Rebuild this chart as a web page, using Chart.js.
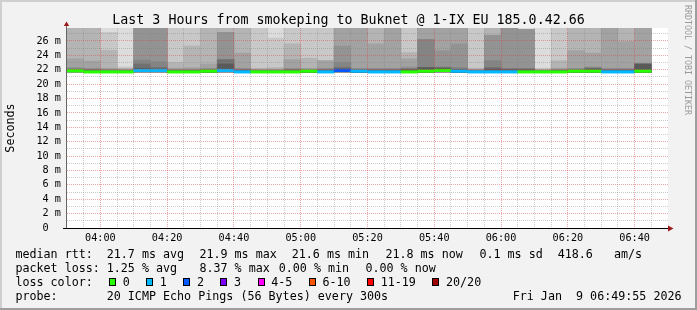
<!DOCTYPE html>
<html>
<head>
<meta charset="utf-8">
<script src="https://cdn.jsdelivr.net/npm/chart.js@4.4.1/dist/chart.umd.min.js"></script>
<style>
  html, body { margin: 0; padding: 0; background: #f2f2f2; }
  canvas { display: block; }
</style>
</head>
<body>
<canvas id="smoke" width="697" height="310"></canvas>
<script>
// 5 minute slots (slot start)
const slotTimes = [
    "03:50", "03:55", "04:00", "04:05", "04:10", "04:15", "04:20", "04:25", "04:30", "04:35",
    "04:40", "04:45", "04:50", "04:55", "05:00", "05:05", "05:10", "05:15", "05:20", "05:25",
    "05:30", "05:35", "05:40", "05:45", "05:50", "05:55", "06:00", "06:05", "06:10", "06:15",
    "06:20", "06:25", "06:30", "06:35", "06:40"
];
const xTickLabels = ["04:00", "04:20", "04:40", "05:00", "05:20", "05:40", "06:00", "06:20", "06:40"];
const axisStart = "03:50";
const axisEnd = "06:50";
const yMax = 27.8;

// median rtt (ms) and lost pings out of 20
const medianRtt = [
    21.85, 21.7, 21.7, 21.7, 21.9, 21.9, 21.7, 21.7, 21.8, 21.9,
    21.7, 21.7, 21.7, 21.7, 21.8, 21.7, 21.9, 21.8, 21.7, 21.7,
    21.7, 21.8, 21.9, 21.8, 21.7, 21.7, 21.7, 21.7, 21.7, 21.7,
    21.8, 21.8, 21.7, 21.7, 21.8
];
const lossCount = [
    0, 0, 0, 0, 1, 1, 0, 0, 0, 1,
    1, 0, 0, 0, 0, 1, 2, 1, 1, 1,
    0, 0, 0, 1, 1, 1, 1, 0, 0, 0,
    0, 0, 1, 1, 0
];
const pingMin = [
    21.7, 21.6, 21.6, 21.6, 21.7, 21.7, 21.6, 21.6, 21.6, 21.7,
    21.6, 21.6, 21.6, 21.6, 21.6, 21.6, 21.7, 21.6, 21.6, 21.6,
    21.6, 21.6, 21.7, 21.6, 21.6, 21.6, 21.6, 21.6, 21.6, 21.6,
    21.6, 21.6, 21.6, 21.6, 21.6
];

// smoke: upper ping of each pair, outer pair first (ms, top of graph is clipped)
const smoke1 = [
    31, 31, 31, 31, 31, 31, 31, 31, 31, 31, 31, 31, 31, 31, 31, 31, 31, 31,
    31, 31, 31, 31, 31, 31, 31, 31, 31, 31, 31, 31, 31, 31, 31, 31, 31
];
const smoke2 = [
    31, 31, 27.2, 22.4, 31, 31, 31, 31, 31, 31, 31, 31, 26.4, 31, 31, 31, 31, 31,
    31, 31, 31, 31, 31, 31, 31, 31, 31, 27.6, 22.2, 31, 31, 31, 31, 31, 31
];
const smoke3 = [
    31, 31, 24.7, 22.2, 31, 31, 23.0, 25.3, 31, 31, 31, 22.2, 22.3, 25.6, 23.6, 23.25, 31, 31,
    31, 31, 24.4, 31, 31, 31, 22.2, 31, 31, 27.6, 22.1, 23.25, 31, 31, 31, 31, 31
];
const smoke4 = [
    23.5, 23.2, 22.2, 22.1, 31, 31, 22.2, 22.3, 22.8, 27.2, 24.3, 22.1, 22.1, 23.4, 22.2, 23.25, 31, 31,
    25.6, 31, 23.5, 31, 31, 31, 22.1, 26.8, 31, 27.6, 22.0, 22.2, 24.65, 24.3, 31, 25.9, 31
];
const smoke5 = [
    22.3, 22.2, 22.1, 22.0, 31, 31, 22.1, 22.1, 22.2, 27.2, 22.2, 22.0, 22.0, 22.2, 22.1, 22.2, 25.3, 22.2,
    22.2, 22.2, 22.4, 26.2, 24.65, 25.6, 22.0, 26.8, 31, 27.6, 21.9, 22.1, 22.2, 22.4, 22.2, 22.2, 22.8
];
const smoke6 = [
    22.2, 22.1, 22.0, 21.9, 23.35, 23.1, 22.0, 22.0, 22.1, 23.4, 22.1, 21.9, 21.9, 22.1, 22.0, 22.1, 23.0, 22.1,
    22.1, 22.1, 22.2, 26.2, 22.4, 22.3, 21.9, 23.25, 22.2, 22.2, 21.9, 22.0, 22.1, 22.3, 22.1, 22.1, 22.8
];
const smoke7 = [
    22.0, 22.0, 21.9, 21.9, 22.8, 22.3, 21.9, 21.9, 22.0, 23.4, 22.0, 21.9, 21.9, 22.0, 21.9, 22.0, 22.3, 22.0,
    22.0, 22.0, 22.1, 22.3, 22.3, 22.1, 21.9, 22.3, 22.1, 22.1, 21.8, 21.9, 22.0, 22.2, 22.0, 22.0, 22.8
];
const smoke8 = [
    21.9, 21.9, 21.8, 21.8, 22.2, 22.1, 21.9, 21.9, 21.9, 22.8, 21.9, 21.8, 21.8, 21.9, 21.9, 21.9, 22.1, 21.9,
    21.9, 21.9, 22.0, 22.3, 22.2, 22.0, 21.8, 22.1, 22.0, 22.0, 21.8, 21.9, 21.9, 22.1, 21.9, 21.9, 22.8
];
const smokeGreys = ["#dcdcdc", "#c8c8c8", "#b4b4b4", "#a2a2a2", "#939393", "#848484", "#707070", "#5a5a5a"];

const lossLabels = ["0", "1", "2", "3", "4-5", "6-10", "11-19", "20/20"];
const lossUpTo = [0, 1, 2, 3, 5, 10, 19, 20];
const lossColors = ["#26ff00", "#00b8ff", "#0059ff", "#7e00ff", "#ff00ff", "#ff5500", "#ff0000", "#a10000"];

const rttStats = ["21.7 ms avg", "21.9 ms max", "21.6 ms min", "21.8 ms now", "0.1 ms sd", "418.6   am/s"];
const lossStats = ["1.25 % avg", "8.37 % max", "0.00 % min", "0.00 % now"];
const probeText = "20 ICMP Echo Pings (56 Bytes) every 300s";
const stampText = "Fri Jan  9 06:49:55 2026";
const titleText = "Last 3 Hours from smokeping to Buknet @ 1-IX EU 185.0.42.66";

const MONO = "'DejaVu Sans Mono', monospace";

function toMin(t){
    const parts = t.split(":");
    return parseInt(parts[0]) * 60 + parseInt(parts[1]);
}
function fmtMin(v){
    const m = toMin(axisStart) + v;
    const hh = String(Math.floor(m / 60)).padStart(2, "0");
    const mm = String(m % 60).padStart(2, "0");
    return hh + ":" + mm;
}
function lossColor(n){
    for(let i = 0; i < lossUpTo.length; i++){
        if(n <= lossUpTo[i]) return lossColors[i];
    }
    return lossColors[lossColors.length - 1];
}

const span = toMin(axisEnd) - toMin(axisStart);
const slotX = slotTimes.map(t => toMin(t) - toMin(axisStart) + 2.5);

const barCommon = {
    grouped: false,
    barPercentage: 1,
    categoryPercentage: 1,
    borderWidth: 0
};

let datasets = [];
datasets.push(Object.assign({
    label: "median",
    data: slotX.map((x, i) => ({x: x, y: [medianRtt[i] - 0.17, medianRtt[i] + 0.17]})),
    backgroundColor: lossCount.map(lossColor),
    order: 0
}, barCommon));

const smokeBands = [smoke1, smoke2, smoke3, smoke4, smoke5, smoke6, smoke7, smoke8];
smokeBands.forEach(function(band, k){
    datasets.push(Object.assign({
        label: "smoke" + (k + 1),
        data: slotX.map((x, i) => ({x: x, y: [pingMin[i], band[i]]})),
        backgroundColor: smokeGreys[k],
        order: smokeBands.length - k
    }, barCommon));
});

const MGRID = "rgba(222, 60, 60, 0.45)";
const GRID = "rgba(128, 128, 128, 0.4)";

// frame, title, axes with arrows and the rrd style legend
const rrdFrame = {
    id: "rrdFrame",
    beforeDraw(chart){
        const c = chart.ctx;
        const a = chart.chartArea;
        c.save();
        c.fillStyle = "#f2f2f2";
        c.fillRect(0, 0, chart.width, chart.height);
        c.fillStyle = "#cfcfcf";
        c.fillRect(0, 0, chart.width, 2);
        c.fillRect(0, 0, 2, chart.height);
        c.fillStyle = "#9e9e9e";
        c.fillRect(chart.width - 2, 0, 2, chart.height);
        c.fillRect(0, chart.height - 2, chart.width, 2);
        c.fillStyle = "#ffffff";
        c.fillRect(a.left, a.top, a.right - a.left, a.bottom - a.top);
        c.restore();
    },
    afterDraw(chart){
        const c = chart.ctx;
        const a = chart.chartArea;
        c.save();

        // axes
        c.strokeStyle = "#666";
        c.lineWidth = 1;
        c.beginPath();
        c.moveTo(a.left - 0.5, a.bottom);
        c.lineTo(a.left - 0.5, a.top - 5);
        c.stroke();
        c.strokeStyle = "#000";
        c.beginPath();
        c.moveTo(a.left - 4, a.bottom + 0.5);
        c.lineTo(a.right, a.bottom + 0.5);
        c.stroke();

        c.fillStyle = "#9b1a1a";
        c.beginPath();
        c.moveTo(a.right, a.bottom - 2.5);
        c.lineTo(a.right + 5.5, a.bottom + 0.5);
        c.lineTo(a.right, a.bottom + 3.5);
        c.closePath();
        c.fill();
        c.beginPath();
        c.moveTo(a.left - 3.2, a.top - 2);
        c.lineTo(a.left - 0.5, a.top - 6.5);
        c.lineTo(a.left + 2.2, a.top - 2);
        c.closePath();
        c.fill();

        // title
        c.fillStyle = "#000";
        c.font = "13.3px " + MONO;
        c.textAlign = "center";
        c.textBaseline = "alphabetic";
        c.fillText(titleText, chart.width / 2, 24);

        // y axis title
        c.save();
        c.font = "11.7px " + MONO;
        c.translate(14, (a.top + a.bottom) / 2);
        c.rotate(-Math.PI / 2);
        c.fillText("Seconds", 0, 0);
        c.restore();

        // watermark
        c.save();
        c.font = "8.3px " + MONO;
        c.fillStyle = "#9a9a9a";
        c.textAlign = "left";
        c.translate(685, 5);
        c.rotate(Math.PI / 2);
        c.fillText("RRDTOOL / TOBI OETIKER", 0, 0);
        c.restore();

        // legend
        c.font = "11.7px " + MONO;
        c.textAlign = "left";
        c.fillStyle = "#000";
        const rttX = [106.7, 199.4, 291.7, 385.4, 479.4, 557.7];
        const lossX = [106.7, 199.4, 278.7, 365.4];
        c.fillText("median rtt:", 15.4, 258);
        rttStats.forEach((s, i) => c.fillText(s, rttX[i], 258));
        c.fillText("packet loss:", 15.4, 272);
        lossStats.forEach((s, i) => c.fillText(s, lossX[i], 272));
        c.fillText("loss color:", 15.4, 286);
        let bx = 109;
        lossLabels.forEach(function(lbl, i){
            const x0 = Math.round(bx);
            c.fillStyle = lossColors[i];
            c.fillRect(x0, 278, 7, 8);
            c.strokeStyle = "#000";
            c.lineWidth = 1;
            c.strokeRect(x0 + 0.5, 278.5, 6, 7);
            c.fillStyle = "#000";
            const lx = bx + 14.3;
            c.fillText(lbl, lx - 0.6, 286);
            bx = lx + c.measureText(lbl).width + 15.8;
        });
        c.fillText("probe:", 15.4, 300);
        c.fillText(probeText, 106.7, 300);
        c.fillText(stampText, 512.7, 300);

        c.restore();
    }
};

const tickFont = {family: MONO, size: 10.2};

new Chart(document.getElementById("smoke").getContext("2d"), {
    type: "bar",
    data: { datasets: datasets },
    options: {
        responsive: false,
        animation: false,
        devicePixelRatio: 1,
        events: [],
        layout: { padding: {left: 10, right: 29, top: 28, bottom: 62} },
        plugins: {
            legend: { display: false },
            tooltip: { enabled: false },
            title: { display: false }
        },
        scales: {
            x: {
                type: "linear",
                offset: false,
                min: 0,
                max: span,
                afterFit: function(scale){ scale.height = 20; },
                ticks: {
                    stepSize: 5,
                    autoSkip: false,
                    maxRotation: 0,
                    padding: 4,
                    color: "#000",
                    font: tickFont,
                    callback: function(v){
                        const lbl = fmtMin(v);
                        return xTickLabels.indexOf(lbl) >= 0 ? lbl : "";
                    }
                },
                grid: {
                    z: 1,
                    offset: false,
                    drawTicks: false,
                    lineWidth: 1,
                    color: function(ctx){
                        if(!ctx.tick) return "rgba(0,0,0,0)";
                        const v = ctx.tick.value;
                        if(v <= 0 || v >= span) return "rgba(0,0,0,0)";
                        return xTickLabels.indexOf(fmtMin(v)) >= 0 ? MGRID : GRID;
                    }
                },
                border: { display: false, dash: [1, 1] }
            },
            y: {
                min: 0,
                max: yMax,
                afterFit: function(scale){ scale.width = 57; },
                ticks: {
                    stepSize: 1,
                    includeBounds: false,
                    autoSkip: false,
                    padding: 6,
                    color: "#000",
                    font: tickFont,
                    callback: function(v){
                        if(v === 0) return "0  ";
                        return v % 2 === 0 ? v + " m" : "";
                    }
                },
                grid: {
                    z: 1,
                    drawTicks: false,
                    lineWidth: 1,
                    color: function(ctx){
                        if(!ctx.tick) return "rgba(0,0,0,0)";
                        const v = ctx.tick.value;
                        if(v <= 0) return "rgba(0,0,0,0)";
                        return v % 2 === 0 ? MGRID : GRID;
                    }
                },
                border: { display: false, dash: [1, 1] }
            }
        }
    },
    plugins: [rrdFrame]
});
</script>
</body>
</html>
